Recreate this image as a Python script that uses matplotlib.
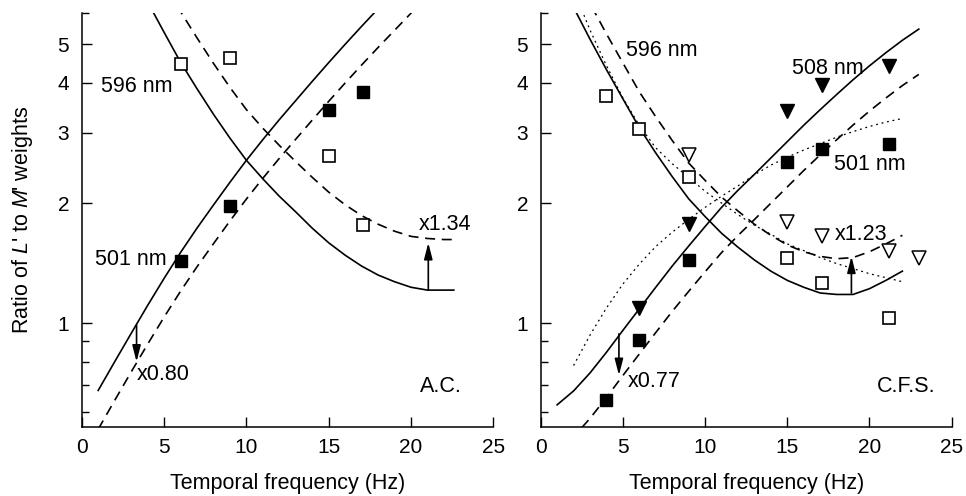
import numpy as np
import matplotlib
matplotlib.use("Agg")
import matplotlib.pyplot as plt
from matplotlib.ticker import FixedLocator, NullFormatter

plt.rcParams['font.family'] = ['Liberation Sans', 'DejaVu Sans']
plt.rcParams['mathtext.fontset'] = 'custom'
plt.rcParams['mathtext.rm'] = 'Liberation Sans'
plt.rcParams['mathtext.it'] = 'Liberation Sans:italic'

# ---- A.C. (left panel) ----
ac_freq = [6, 9, 15, 17.1]
ac_596 = [4.45, 4.63, 2.63, 1.76]
ac_501 = [1.43, 1.97, 3.42, 3.80]

ac_596_fit_x = [4.2, 5, 6, 7, 8, 9, 10, 11, 12, 13, 14, 15, 16, 17, 18, 19, 20, 21, 22, 22.6]
ac_596_fit = [6.17, 5.36, 4.51, 3.87, 3.34, 2.91, 2.56, 2.30, 2.08, 1.90, 1.73, 1.59, 1.48, 1.39,
              1.32, 1.27, 1.23, 1.21, 1.21, 1.21]
ac_596_scaled_x = [5.8, 6, 7, 8, 9, 10, 11, 12, 13, 14, 15, 16, 17, 18, 19, 20, 21, 22, 22.6]
ac_596_scaled = [6.25, 6.04, 5.19, 4.48, 3.90, 3.43, 3.08, 2.79, 2.54, 2.32, 2.13, 1.98, 1.86,
                 1.77, 1.70, 1.65, 1.63, 1.62, 1.62]
ac_501_fit_x = [1, 2, 3, 4, 5, 6, 7, 8, 9, 10, 11, 12, 13, 14, 15, 16, 17, 18]
ac_501_fit = [0.678, 0.800, 0.942, 1.107, 1.294, 1.503, 1.730, 1.977, 2.254, 2.559, 2.884,
              3.236, 3.614, 4.036, 4.498, 5.000, 5.546, 6.138]
ac_501_scaled_x = [1, 2, 3, 4, 5, 6, 7, 8, 9, 10, 11, 12, 13, 14, 15, 16, 17, 18, 19, 20, 20.3]
ac_501_scaled = [0.542, 0.640, 0.754, 0.885, 1.035, 1.202, 1.384, 1.581, 1.803, 2.046, 2.307,
                 2.588, 2.891, 3.228, 3.597, 3.999, 4.436, 4.909, 5.420, 5.984, 6.166]

# ---- C.F.S. (right panel) ----
cfs_freq = [4, 6, 9, 15, 17.1, 21.2]
cfs_596 = [3.71, 3.06, 2.33, 1.46, 1.26, 1.03]
cfs_501 = [0.642, 0.906, 1.44, 2.54, 2.73, 2.81]
cfs_508_freq = [6, 9, 15, 17.1, 21.2]
cfs_508 = [1.09, 1.77, 3.41, 3.95, 4.41]
cfs_596b_freq = [9, 15, 17.1, 21.2, 23]
cfs_596b = [2.64, 1.79, 1.65, 1.52, 1.46]

cfs_596_fit_x = [2, 3, 4, 5, 6, 7, 8, 9, 10, 11, 12, 13, 14, 15, 16, 17, 18, 19, 20, 21, 22]
cfs_596_fit = [6.19, 5.15, 4.32, 3.65, 3.09, 2.67, 2.33, 2.05, 1.85, 1.68, 1.55, 1.44, 1.35,
               1.28, 1.23, 1.19, 1.18, 1.18, 1.22, 1.28, 1.35]
cfs_596_scaled_x = [3.1, 4, 5, 6, 7, 8, 9, 10, 11, 12, 13, 14, 15, 16, 17, 18, 19, 20, 21, 22]
cfs_596_scaled = [6.22, 5.31, 4.49, 3.80, 3.29, 2.87, 2.52, 2.28, 2.07, 1.91, 1.77, 1.66, 1.57,
                  1.51, 1.47, 1.45, 1.46, 1.51, 1.58, 1.66]
cfs_596_dot_x = [2.5, 3, 4, 5, 6, 7, 8, 9, 10, 11, 12, 13, 14, 15, 16, 17, 18, 19, 20, 21, 22]
cfs_596_dot = [6.10, 5.43, 4.42, 3.67, 3.13, 2.75, 2.51, 2.32, 2.14, 2.00, 1.87, 1.76, 1.67,
               1.58, 1.52, 1.46, 1.41, 1.37, 1.33, 1.30, 1.27]
cfs_508_dot_x = [2, 3, 4, 5, 6, 7, 8, 9, 10, 11, 12, 13, 14, 15, 16, 17, 18, 19, 20, 21, 22]
cfs_508_dot = [0.783, 0.933, 1.091, 1.253, 1.406, 1.556, 1.690, 1.820, 1.950, 2.080, 2.208,
               2.355, 2.489, 2.606, 2.716, 2.818, 2.924, 3.020, 3.112, 3.192, 3.258]
cfs_508_fit_x = [1, 2, 3, 4, 5, 6, 7, 8, 9, 10, 11, 12, 13, 14, 15, 16, 17, 18, 19, 20, 21, 22, 23]
cfs_508_fit = [0.624, 0.676, 0.750, 0.845, 0.959, 1.086, 1.230, 1.390, 1.560, 1.746, 1.950,
               2.153, 2.360, 2.594, 2.851, 3.133, 3.428, 3.741, 4.074, 4.416, 4.764, 5.117, 5.458]
cfs_501_scaled_x = [2.5, 3, 4, 5, 6, 7, 8, 9, 10, 11, 12, 13, 14, 15, 16, 17, 18, 19, 20, 21, 22, 23]
cfs_501_scaled = [0.547, 0.577, 0.651, 0.739, 0.837, 0.947, 1.070, 1.201, 1.345, 1.502, 1.658,
                  1.818, 1.998, 2.195, 2.413, 2.640, 2.881, 3.137, 3.401, 3.668, 3.940, 4.203]

# arrows: (x, from, to)
ac_arrows = [(3.33, 0.99, 0.80), (21.05, 1.21, 1.59)]
cfs_arrows = [(4.76, 0.94, 0.74), (18.9, 1.19, 1.47)]

lw = 1.2
dash = (0, (6, 4))
dots = (0, (1.5, 3))
fs = 15.5

fig = plt.figure(figsize=(9.66, 4.96), dpi=100)
ax1 = fig.add_axes([0.0846, 0.1397, 0.4261, 0.8347])
ax2 = fig.add_axes([0.5597, 0.1397, 0.4255, 0.8347])

for ax in (ax1, ax2):
    ax.set_yscale('log')
    ax.set_xlim(0, 25)
    ax.set_ylim(0.55, 6.0)
    ax.spines['top'].set_visible(False)
    ax.spines['right'].set_visible(False)
    ax.spines['left'].set_linewidth(1.1)
    ax.spines['bottom'].set_linewidth(1.1)
    ax.set_xticks([0, 5, 10, 15, 20, 25])
    ax.yaxis.set_major_locator(FixedLocator([1, 2, 3, 4, 5]))
    ax.yaxis.set_minor_locator(FixedLocator([0.6, 0.7, 0.8, 0.9, 6]))
    ax.set_yticklabels(["1", "2", "3", "4", "5"])
    ax.yaxis.set_minor_formatter(NullFormatter())
    ax.tick_params(which='major', direction='in', length=7, width=1.0, labelsize=15, pad=9)
    ax.tick_params(which='minor', direction='in', length=5, width=1.0)
    ax.tick_params(axis='x', pad=8)
    ax.set_xlabel("Temporal frequency (Hz)", fontsize=fs, labelpad=12)

# left panel
ax1.plot(ac_596_fit_x, ac_596_fit, 'k-', lw=lw)
ax1.plot(ac_596_scaled_x, ac_596_scaled, 'k', ls=dash, lw=lw)
ax1.plot(ac_501_fit_x, ac_501_fit, 'k-', lw=lw)
ax1.plot(ac_501_scaled_x, ac_501_scaled, 'k', ls=dash, lw=lw)
ax1.plot(ac_freq, ac_596, 's', ms=9, mfc='white', mec='k', mew=1.2, ls='none')
ax1.plot(ac_freq, ac_501, 's', ms=8.5, mfc='k', mec='k', ls='none')
for x, y0, y1 in ac_arrows:
    ax1.annotate("", xy=(x, y1), xytext=(x, y0),
                 arrowprops=dict(arrowstyle='-|>,head_length=0.7,head_width=0.18',
                                 color='k', lw=1.2, shrinkA=0, shrinkB=0, mutation_scale=14))
ax1.text(1.15, 3.91, "596 nm", fontsize=fs, va='center')
ax1.text(0.81, 1.44, "501 nm", fontsize=fs, va='center')
ax1.text(3.33, 0.742, "x0.80", fontsize=fs, va='center')
ax1.text(20.46, 1.765, "x1.34", fontsize=fs, va='center')
ax1.text(20.55, 0.693, "A.C.", fontsize=fs, va='center')
ax1.set_ylabel("Ratio of $L$' to $M$' weights", fontsize=fs, labelpad=16)

# right panel
ax2.plot(cfs_596_fit_x, cfs_596_fit, 'k-', lw=lw)
ax2.plot(cfs_596_scaled_x, cfs_596_scaled, 'k', ls=dash, lw=lw)
ax2.plot(cfs_596_dot_x, cfs_596_dot, 'k', ls=dots, lw=0.9)
ax2.plot(cfs_508_fit_x, cfs_508_fit, 'k-', lw=lw)
ax2.plot(cfs_501_scaled_x, cfs_501_scaled, 'k', ls=dash, lw=lw)
ax2.plot(cfs_508_dot_x, cfs_508_dot, 'k', ls=dots, lw=0.9)
ax2.plot(cfs_freq, cfs_596, 's', ms=9, mfc='white', mec='k', mew=1.2, ls='none')
ax2.plot(cfs_freq, cfs_501, 's', ms=8.5, mfc='k', mec='k', ls='none')
ax2.plot(cfs_508_freq, cfs_508, 'v', ms=9.5, mfc='k', mec='k', ls='none')
ax2.plot(cfs_596b_freq, cfs_596b, 'v', ms=9.5, mfc='white', mec='k', mew=1.1, ls='none')
for x, y0, y1 in cfs_arrows:
    ax2.annotate("", xy=(x, y1), xytext=(x, y0),
                 arrowprops=dict(arrowstyle='-|>,head_length=0.7,head_width=0.18',
                                 color='k', lw=1.2, shrinkA=0, shrinkB=0, mutation_scale=14))
ax2.text(5.19, 4.83, "596 nm", fontsize=fs, va='center')
ax2.text(15.27, 4.36, "508 nm", fontsize=fs, va='center')
ax2.text(17.84, 2.50, "501 nm", fontsize=fs, va='center')
ax2.text(17.9, 1.665, "x1.23", fontsize=fs, va='center')
ax2.text(5.27, 0.714, "x0.77", fontsize=fs, va='center')
ax2.text(20.44, 0.693, "C.F.S.", fontsize=fs, va='center')

plt.savefig("out.png", dpi=100)
plt.close()
